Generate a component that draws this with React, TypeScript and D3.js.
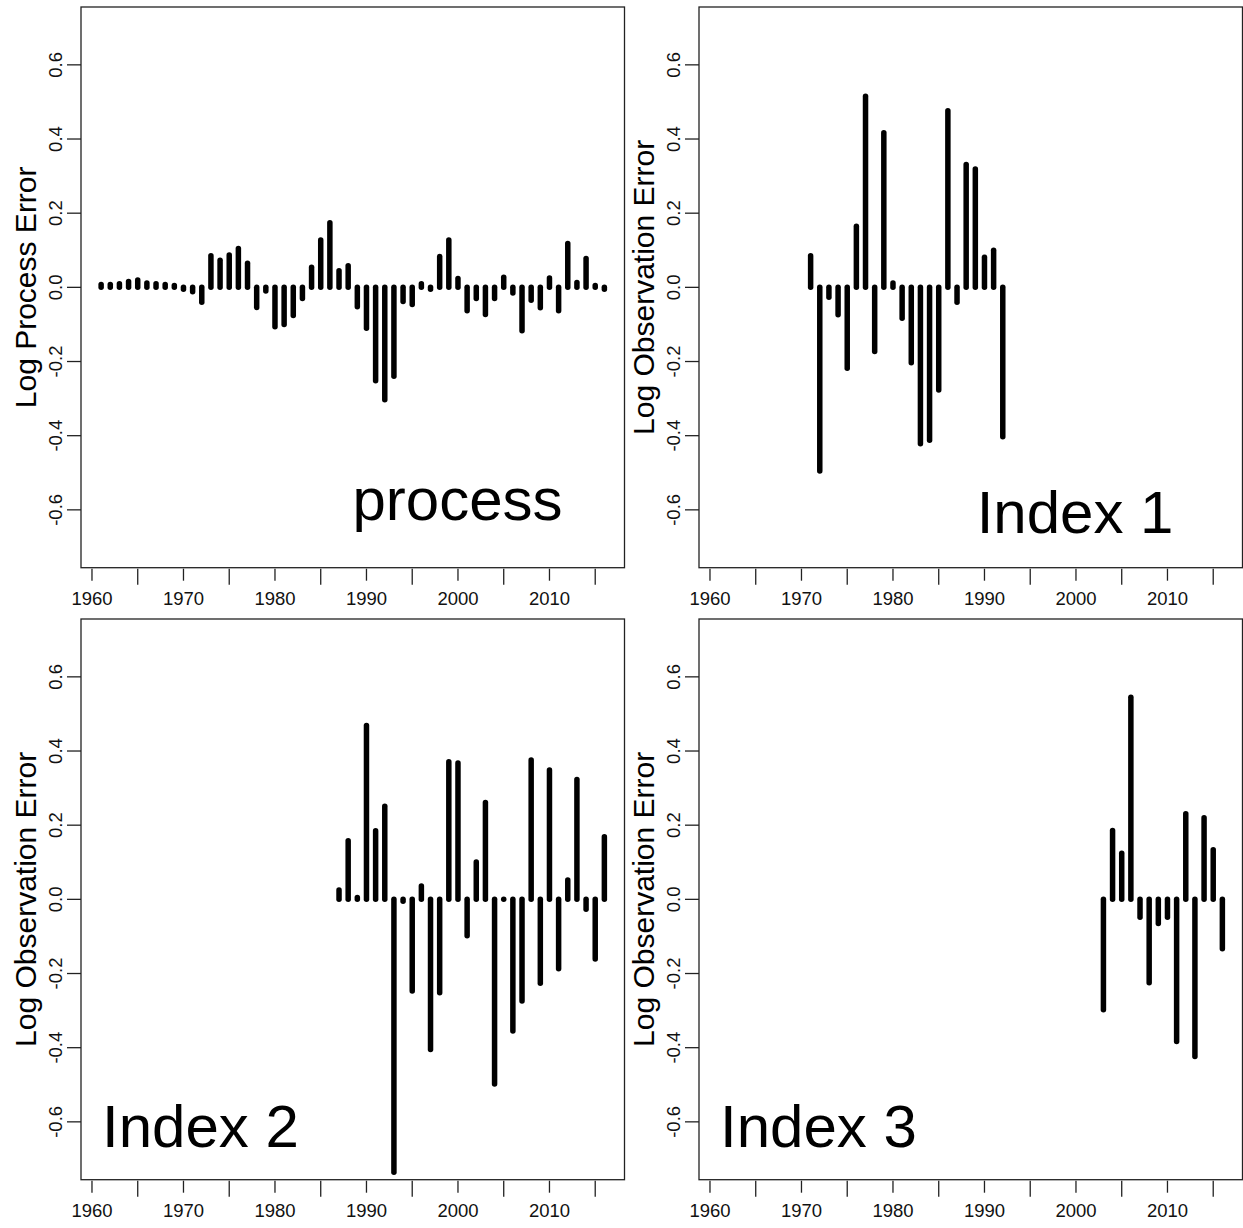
import React from 'react'
import * as d3 from 'd3'

// residuals, one value per year
const processStart = 1961
const processErr = [
  0.008, 0.008, 0.01, 0.016, 0.02, 0.012, 0.01, 0.008, 0.005, -0.005,
  -0.012, -0.04, 0.085, 0.073, 0.087, 0.105, 0.065, -0.054, -0.01, -0.106,
  -0.1, -0.076, -0.03, 0.054, 0.128, 0.174, 0.045, 0.058, -0.052, -0.11,
  -0.252, -0.303, -0.24, -0.038, -0.046, 0.01, -0.005, 0.083, 0.128, 0.024,
  -0.063, -0.03, -0.073, -0.03, 0.027, -0.015, -0.117, -0.035, -0.055, 0.025,
  -0.063, 0.118, 0.013, 0.078, 0.005, -0.005,
]

const index1Start = 1971
const index1Err = [
  0.085, -0.495, -0.027, -0.074, -0.218, 0.165, 0.515, -0.173, 0.417, 0.012,
  -0.083, -0.203, -0.422, -0.412, -0.277, 0.476, -0.04, 0.331, 0.319, 0.081,
  0.1, -0.403,
]

const index2Start = 1987
const index2Err = [
  0.025, 0.158, 0.005, 0.469, 0.185, 0.251, -0.736, -0.005, -0.247, 0.036,
  -0.405, -0.252, 0.371, 0.368, -0.098, 0.101, 0.261, -0.498, 0.0, -0.355,
  -0.274, 0.376, -0.226, 0.349, -0.187, 0.052, 0.323, -0.027, -0.161, 0.169,
]

const index3Start = 2003
const index3Err = [
  -0.298, 0.186, 0.124, 0.545, -0.048, -0.225, -0.065, -0.048, -0.383, 0.231,
  -0.424, 0.22, 0.134, -0.133,
]

const xTicks = d3.range(1960, 2016, 5)
const yTicks = [-0.6, -0.4, -0.2, 0, 0.2, 0.4, 0.6]

const FONT = '"Liberation Sans", Arial, sans-serif'

// plot box of the top-left panel, others are shifted copies
const box = { left: 81, right: 624.5, top: 7, bottom: 567.7 }

function Panel({ dx, dy, start, values, ylab, label, labelX, labelY, anchor }) {
  const x = d3.scaleLinear().domain([1958.8, 2018.2]).range([box.left + dx, box.right + dx])
  const y = d3.scaleLinear().domain([-0.756, 0.756]).range([box.bottom + dy, box.top + dy])
  const mid = (box.top + box.bottom) / 2 + dy
  const [x0, x1] = x.range()
  const [yb, yt] = y.range()

  return (
    <g>
      <rect x={x0} y={yt} width={x1 - x0} height={yb - yt} fill="none" stroke="#222" strokeWidth={1.3} />

      {values.map((v, i) => (
        <line key={i} x1={x(start + i)} x2={x(start + i)} y1={y(0)} y2={y(v)}
          stroke="#000" strokeWidth={5.5} strokeLinecap="round" />
      ))}

      {xTicks.map(t => {
        const lab = t % 10 === 0
        return (
          <g key={t}>
            <line x1={x(t)} x2={x(t)} y1={yb + 1} y2={yb + (lab ? 13 : 17)} stroke="#222" strokeWidth={1.3} />
            {lab && (
              <text x={x(t)} y={yb + 37} textAnchor="middle" fontSize={18.5}
                fontFamily={FONT} fill="#111">{t}</text>
            )}
          </g>
        )
      })}

      {yTicks.map(t => (
        <g key={t}>
          <line x1={x0 - 14} x2={x0} y1={y(t)} y2={y(t)} stroke="#222" strokeWidth={1.3} />
          <text transform={`translate(${x0 - 19.5},${y(t)}) rotate(-90)`} textAnchor="middle"
            fontSize={18.5} fontFamily={FONT} fill="#111">{t.toFixed(1)}</text>
        </g>
      ))}

      <text transform={`translate(${36 + dx},${mid}) rotate(-90)`} textAnchor="middle"
        fontSize={30} fontFamily={FONT} fill="#000">{ylab}</text>

      <text x={anchor === 'end' ? x1 - labelX : x0 + labelX} y={yb - labelY} textAnchor={anchor}
        fontSize={60} fontFamily={FONT} fill="#000">{label}</text>
    </g>
  )
}

export default function App() {
  return (
    <svg width={1243} height={1228} style={{ position: 'absolute', left: 0, top: 0, background: '#fff' }}>
      <Panel dx={0} dy={0} start={processStart} values={processErr}
        ylab="Log Process Error" label="process" labelX={62} labelY={48} anchor="end" />
      <Panel dx={618} dy={0} start={index1Start} values={index1Err}
        ylab="Log Observation Error" label="Index 1" labelX={69} labelY={35} anchor="end" />
      <Panel dx={0} dy={612} start={index2Start} values={index2Err}
        ylab="Log Observation Error" label="Index 2" labelX={21} labelY={33} anchor="start" />
      <Panel dx={618} dy={612} start={index3Start} values={index3Err}
        ylab="Log Observation Error" label="Index 3" labelX={21} labelY={33} anchor="start" />
    </svg>
  )
}
